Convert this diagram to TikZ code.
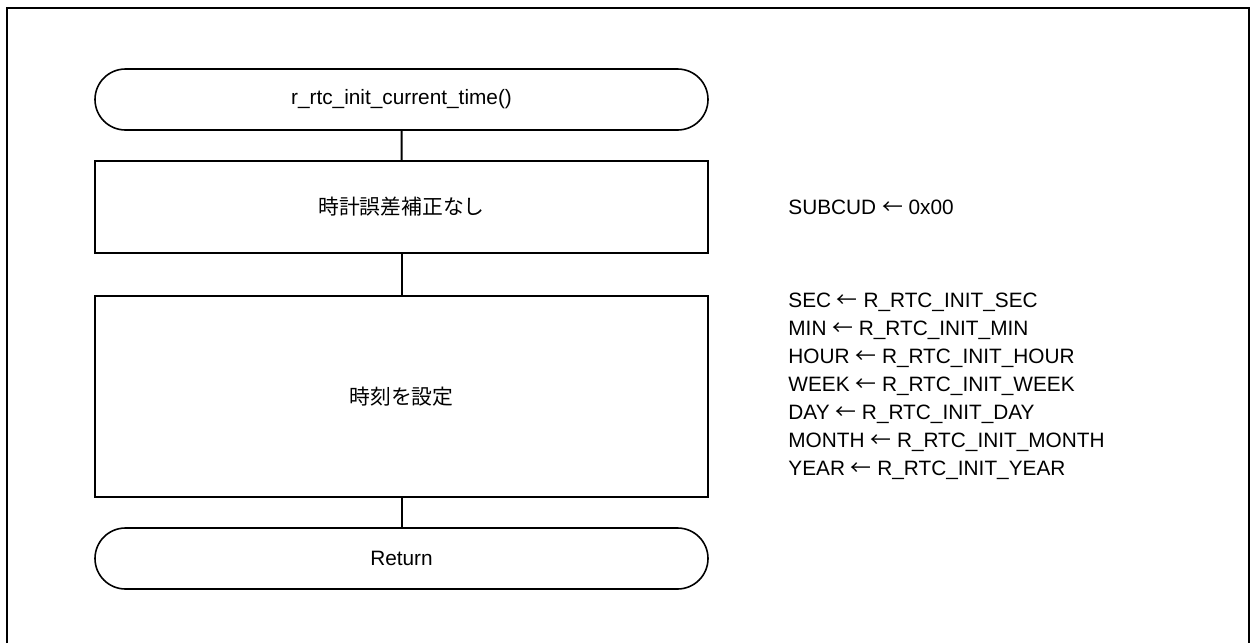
\documentclass[tikz,border=0pt]{standalone}
\usepackage{fontspec}
\setmainfont{Liberation Sans}
\newfontfamily\jpfont{Noto Sans CJK JP}
\usetikzlibrary{shapes.misc}

\newcommand{\getsarrow}{{\jpfont ←}}

\tikzset{
	terminal/.style = {draw, line width = 0.8pt, rounded rectangle, minimum width = 306.5pt, minimum height = 30.5pt, inner sep = 0pt},
	process/.style = {draw, line width = 0.8pt, rectangle, minimum width = 306.5pt, inner sep = 0pt},
	flowline/.style = {line width = 1pt},
	note/.style = {anchor = west, align = left, inner sep = 0pt}
}

\begin{document}
\begin{tikzpicture}[x = 0.5pt, y = -0.5pt, font = \fontsize{10.4}{14}\selectfont]

	% page area and outer frame (bottom edge runs off the page)
	\useasboundingbox (0, 0) rectangle (1252, 643);
	\draw[line width = 1pt] (6.5, 643) -- (6.5, 8) -- (1249, 8) -- (1249, 643);

	% x position of the flow column
	\def\flowX{401.5}

	\node[terminal] (start) at (\flowX, 99.5) {r\_rtc\_init\_current\_time()};
	\node[process, minimum height = 46pt] (nocorr) at (\flowX, 207) {\jpfont 時計誤差補正なし};
	\node[process, minimum height = 100.5pt] (settime) at (\flowX, 396.5) {\jpfont 時刻を設定};
	\node[terminal] (ret) at (\flowX, 558.5) {Return};

	\draw[flowline] (start) -- (nocorr);
	\draw[flowline] (nocorr) -- (settime);
	\draw[flowline] (settime) -- (ret);

	% register settings beside the boxes
	\node[note] (corrnote) at (788, 207) {SUBCUD \getsarrow\ 0x00};
	\node[note] (timenote) at (788, 386) {SEC \getsarrow\ R\_RTC\_INIT\_SEC\\
		MIN \getsarrow\ R\_RTC\_INIT\_MIN\\
		HOUR \getsarrow\ R\_RTC\_INIT\_HOUR\\
		WEEK \getsarrow\ R\_RTC\_INIT\_WEEK\\
		DAY \getsarrow\ R\_RTC\_INIT\_DAY\\
		MONTH \getsarrow\ R\_RTC\_INIT\_MONTH\\
		YEAR \getsarrow\ R\_RTC\_INIT\_YEAR};

\end{tikzpicture}
\end{document}
